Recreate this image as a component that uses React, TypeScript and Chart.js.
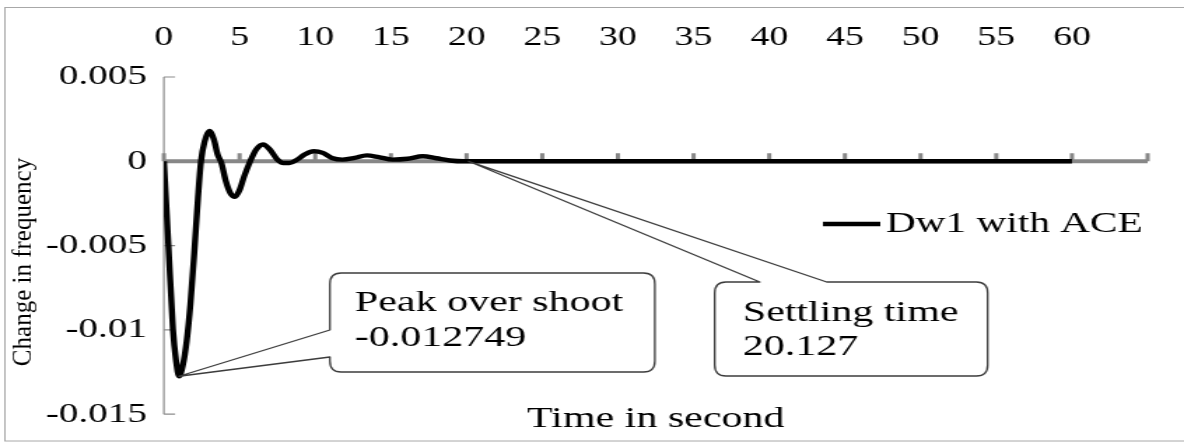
import { useEffect, useRef } from 'react';
import { Chart, registerables } from 'chart.js';

Chart.register(...registerables);

// Frequency deviation of area 1 (with ACE) after a load step, sampled in seconds.
const TIME_S = [
  0, 0.3, 0.6, 0.8, 1.0, 1.25, 1.5, 1.75, 2.0, 2.25, 2.45, 2.7, 3.0, 3.3, 3.55, 3.8,
  4.1, 4.4, 4.7, 5.0, 5.3, 5.7, 6.1, 6.55, 7.0, 7.5, 7.9, 8.3, 8.8, 9.3, 9.9, 10.5,
  11.1, 11.8, 12.6, 13.4, 14.2, 15.1, 16.1, 17.1, 18.0, 18.9, 19.8, 21, 25, 30, 35,
  40, 45, 50, 55, 60,
];
const DW1_ACE = [
  0, -0.005, -0.01, -0.0118, -0.012749, -0.0121, -0.0107, -0.0085, -0.0055, -0.0022,
  0.0, 0.0012, 0.0018, 0.0013, 0.0004, -0.0001, -0.0012, -0.0019, -0.0021, -0.0017,
  -0.0009, 0.0, 0.0007, 0.001, 0.0007, 0.0001, -0.0001, -0.0001, 0.0001, 0.0004,
  0.0006, 0.0005, 0.0002, 0.0001, 0.0002, 0.00035, 0.00025, 0.0001, 0.00015, 0.0003,
  0.00018, 0.00005, 0, 0, 0, 0, 0, 0, 0, 0, 0, 0,
];
const SETTLING_TIME = 20.127;

const X_TICKS = [0, 5, 10, 15, 20, 25, 30, 35, 40, 45, 50, 55, 60];
const X_AXIS_END = 65;
const Y_TICKS = [0.005, 0, -0.005, -0.01, -0.015];

const SERIES_LABEL = 'Dw1 with ACE';
const X_TITLE = 'Time in second';
const Y_TITLE = 'Change in frequency';

// The drawing is laid out on a narrower canvas and widened by CSS.
const PAGE_W = 1184;
const PAGE_H = 443;
const CANVAS_W = 846;
const SX = PAGE_W / CANVAS_W;
const SERIF = '"Liberation Serif", "Times New Roman", serif';
const INK = '#000000';

const peakIndex = DW1_ACE.indexOf(Math.min(...DW1_ACE));
const PEAK_TIME = TIME_S[peakIndex];
const PEAK_VALUE = DW1_ACE[peakIndex];

type Callout = {
  left: number;
  top: number;
  right: number;
  bottom: number;
  side: 'left' | 'top';
  base: [number, number];
  tip: () => { x: number; y: number };
  lines: string[];
  textX: number;
  lineY: number[];
};

function calloutPath(ctx: CanvasRenderingContext2D, c: Callout, tip: { x: number; y: number }) {
  const rx = 8;
  const ry = 11;
  const { left: l, top: t, right: r, bottom: b } = c;
  ctx.beginPath();
  ctx.moveTo(l + rx, t);
  if (c.side === 'top') {
    ctx.lineTo(c.base[0], t);
    ctx.lineTo(tip.x, tip.y);
    ctx.lineTo(c.base[1], t);
  }
  ctx.lineTo(r - rx, t);
  ctx.quadraticCurveTo(r, t, r, t + ry);
  ctx.lineTo(r, b - ry);
  ctx.quadraticCurveTo(r, b, r - rx, b);
  ctx.lineTo(l + rx, b);
  ctx.quadraticCurveTo(l, b, l, b - ry);
  if (c.side === 'left') {
    ctx.lineTo(l, c.base[0]);
    ctx.lineTo(tip.x, tip.y);
    ctx.lineTo(l, c.base[1]);
  }
  ctx.lineTo(l, t + ry);
  ctx.quadraticCurveTo(l, t, l + rx, t);
  ctx.closePath();
}

export default function App() {
  const canvasRef = useRef<HTMLCanvasElement | null>(null);

  useEffect(() => {
    const canvas = canvasRef.current;
    if (!canvas) return;

    const decor = {
      id: 'decor',
      beforeDatasetsDraw(chart: any) {
        const { ctx, chartArea: ca } = chart;
        const x = chart.scales.x;
        const y = chart.scales.y;
        ctx.save();

        // outer frame
        ctx.strokeStyle = '#a8a8a8';
        ctx.lineWidth = 1;
        ctx.strokeRect(3.5, 7.5, CANVAS_W + 10, 433.5);

        // vertical axis with inward ticks
        const yTop = y.getPixelForValue(Y_TICKS[0]);
        const yBot = y.getPixelForValue(Y_TICKS[Y_TICKS.length - 1]);
        ctx.strokeStyle = '#8c8c8c';
        ctx.lineWidth = 1.2;
        ctx.beginPath();
        ctx.moveTo(ca.left, yTop);
        ctx.lineTo(ca.left, yBot);
        Y_TICKS.forEach((v) => {
          const py = y.getPixelForValue(v);
          ctx.moveTo(ca.left, py);
          ctx.lineTo(ca.left + 8, py);
        });
        ctx.stroke();

        // horizontal axis crossing at zero
        const y0 = y.getPixelForValue(0);
        ctx.strokeStyle = '#878787';
        ctx.lineWidth = 4;
        ctx.beginPath();
        ctx.moveTo(x.getPixelForValue(0), y0);
        ctx.lineTo(x.getPixelForValue(X_AXIS_END), y0);
        ctx.stroke();
        ctx.lineWidth = 3;
        ctx.beginPath();
        [...X_TICKS, X_AXIS_END].forEach((v) => {
          const px = x.getPixelForValue(v);
          ctx.moveTo(px, y0);
          ctx.lineTo(px, y0 - 8);
        });
        ctx.stroke();
        ctx.restore();
      },
      afterDatasetsDraw(chart: any) {
        const { ctx } = chart;
        const x = chart.scales.x;
        const y = chart.scales.y;

        const callouts: Callout[] = [
          {
            left: 235.7,
            top: 273,
            right: 467.9,
            bottom: 372,
            side: 'left',
            base: [357, 330],
            tip: () => ({ x: x.getPixelForValue(PEAK_TIME), y: y.getPixelForValue(PEAK_VALUE) }),
            lines: ['Peak over shoot', String(PEAK_VALUE)],
            textX: 253.6,
            lineY: [303, 338],
          },
          {
            left: 510.7,
            top: 282,
            right: 705.7,
            bottom: 376,
            side: 'top',
            base: [542.9, 590.7],
            tip: () => ({ x: x.getPixelForValue(SETTLING_TIME), y: y.getPixelForValue(0) }),
            lines: ['Settling time', String(SETTLING_TIME)],
            textX: 530.7,
            lineY: [313, 347],
          },
        ];

        ctx.save();
        callouts.forEach((c) => {
          calloutPath(ctx, c, c.tip());
          ctx.fillStyle = '#ffffff';
          ctx.fill();
          ctx.strokeStyle = '#3c3c3c';
          ctx.lineWidth = 1.3;
          ctx.lineJoin = 'round';
          ctx.stroke();
          ctx.fillStyle = INK;
          ctx.font = `30px ${SERIF}`;
          ctx.textAlign = 'left';
          ctx.textBaseline = 'middle';
          c.lines.forEach((line, i) => ctx.fillText(line, c.textX, c.lineY[i]));
        });

        // legend
        const ds = chart.data.datasets[0];
        ctx.strokeStyle = ds.borderColor;
        ctx.lineWidth = 4.5;
        ctx.beginPath();
        ctx.moveTo(588, 224);
        ctx.lineTo(629, 224);
        ctx.stroke();
        ctx.fillStyle = INK;
        ctx.font = `29.5px ${SERIF}`;
        ctx.textAlign = 'left';
        ctx.textBaseline = 'middle';
        ctx.fillText(ds.label, 633, 224);

        // vertical axis title, kept at its natural proportions after widening
        ctx.translate(17.1, 262);
        ctx.scale(1 / SX, 1);
        ctx.rotate(-Math.PI / 2);
        ctx.font = `25px ${SERIF}`;
        ctx.textAlign = 'center';
        ctx.textBaseline = 'middle';
        ctx.fillText(Y_TITLE, 0, 0);
        ctx.restore();
      },
    };

    const chart = new Chart(canvas, {
      type: 'line',
      data: {
        datasets: [
          {
            label: SERIES_LABEL,
            data: TIME_S.map((t, i) => ({ x: t, y: DW1_ACE[i] })),
            borderColor: '#000000',
            borderWidth: 4.4,
            pointRadius: 0,
            cubicInterpolationMode: 'monotone',
            fill: false,
          },
        ],
      },
      options: {
        animation: false,
        responsive: false,
        maintainAspectRatio: false,
        devicePixelRatio: 1,
        layout: { padding: { left: 0, right: 26, top: 0, bottom: 0 } },
        plugins: {
          legend: { display: false },
          tooltip: { enabled: false },
        },
        scales: {
          x: {
            type: 'linear',
            position: 'top',
            min: 0,
            max: X_AXIS_END,
            afterBuildTicks: (s: any) => {
              s.ticks = X_TICKS.map((v) => ({ value: v }));
            },
            afterFit: (s: any) => {
              s.height = 77;
            },
            grid: { display: false, drawTicks: false },
            border: { display: false },
            ticks: {
              font: { family: SERIF, size: 27 },
              color: INK,
              padding: 23,
              maxRotation: 0,
              autoSkip: false,
              callback: (v: any) => String(v),
            },
          },
          xTitle: {
            type: 'linear',
            position: 'bottom',
            min: 0,
            max: X_AXIS_END,
            afterFit: (s: any) => {
              s.height = 27;
            },
            grid: { display: false, drawTicks: false },
            border: { display: false },
            ticks: { display: false },
            title: {
              display: true,
              text: X_TITLE,
              color: INK,
              font: { family: SERIF, size: 30 },
              padding: { top: 0, bottom: 4 },
            },
          },
          y: {
            type: 'linear',
            min: Y_TICKS[Y_TICKS.length - 1],
            max: Y_TICKS[0],
            afterBuildTicks: (s: any) => {
              s.ticks = Y_TICKS.map((v) => ({ value: v }));
            },
            afterFit: (s: any) => {
              s.width = 117.1;
            },
            grid: { display: false, drawTicks: false },
            border: { display: false },
            ticks: {
              font: { family: SERIF, size: 28 },
              color: INK,
              padding: 12,
              autoSkip: false,
              callback: (v: any) => String(v),
            },
          },
        },
      } as any,
      plugins: [decor],
    });

    return () => chart.destroy();
  }, []);

  return (
    <div style={{ position: 'absolute', left: 0, top: 0, width: PAGE_W, height: PAGE_H, background: '#ffffff' }}>
      <canvas
        ref={canvasRef}
        width={CANVAS_W}
        height={PAGE_H}
        style={{ display: 'block', width: `${PAGE_W}px`, height: `${PAGE_H}px` }}
      />
    </div>
  );
}
